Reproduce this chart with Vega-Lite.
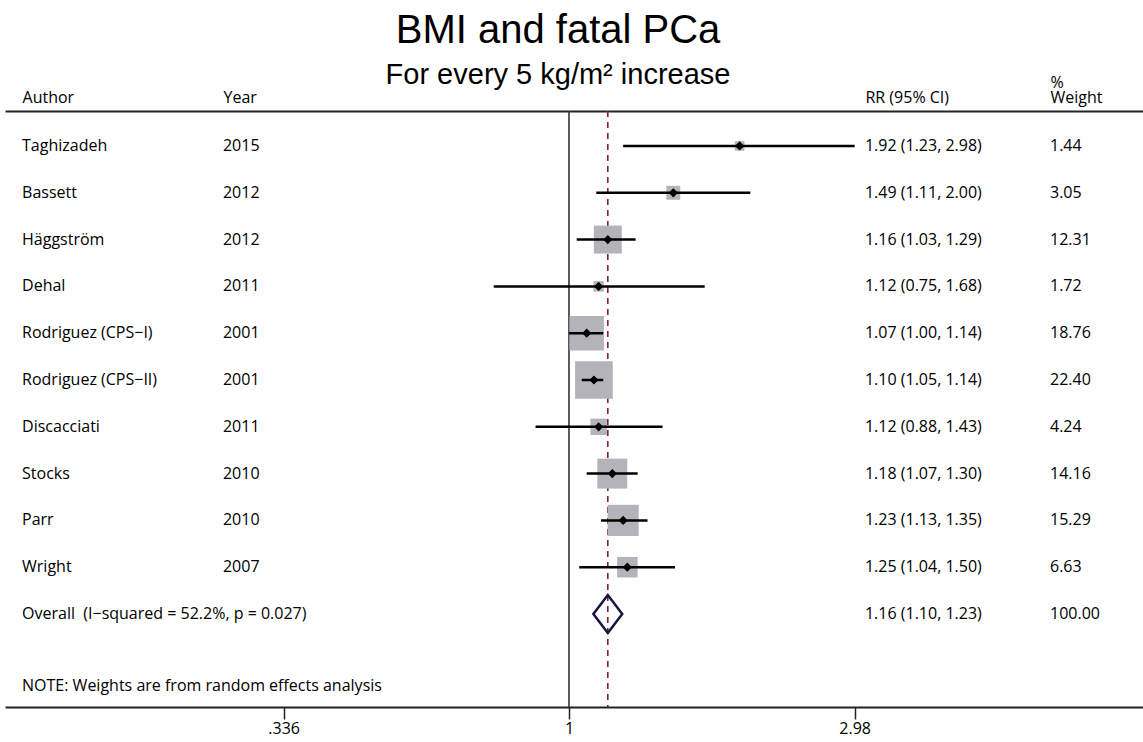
{
  "$schema": "https://vega.github.io/schema/vega-lite/v6.json",
  "width": 1138,
  "height": 596,
  "autosize": {"type": "none"},
  "padding": {"left": 5, "top": 111, "right": 0, "bottom": 35},
  "background": "white",
  "config": {"view": {"stroke": null}, "font": "Open Sans"},
  "title": {
    "text": "BMI and fatal PCa",
    "subtitle": "For every 5 kg/m² increase",
    "font": "Liberation Sans",
    "fontSize": 40,
    "fontWeight": "normal",
    "color": "black",
    "subtitleFont": "Liberation Sans",
    "subtitleFontSize": 29,
    "subtitleColor": "black",
    "subtitlePadding": 10,
    "anchor": "middle",
    "dx": -16,
    "offset": -16
  },
  "datasets": {
    "studies": [
      {"kind": "study", "study": "Taghizadeh", "year": "2015", "rr": 1.92, "lo": 1.23, "hi": 2.98, "weight": 1.44, "rrci": "1.92 (1.23, 2.98)", "wt": "1.44"},
      {"kind": "study", "study": "Bassett", "year": "2012", "rr": 1.49, "lo": 1.11, "hi": 2.00, "weight": 3.05, "rrci": "1.49 (1.11, 2.00)", "wt": "3.05"},
      {"kind": "study", "study": "Häggström", "year": "2012", "rr": 1.16, "lo": 1.03, "hi": 1.29, "weight": 12.31, "rrci": "1.16 (1.03, 1.29)", "wt": "12.31"},
      {"kind": "study", "study": "Dehal", "year": "2011", "rr": 1.12, "lo": 0.75, "hi": 1.68, "weight": 1.72, "rrci": "1.12 (0.75, 1.68)", "wt": "1.72"},
      {"kind": "study", "study": "Rodriguez (CPS−I)", "year": "2001", "rr": 1.07, "lo": 1.00, "hi": 1.14, "weight": 18.76, "rrci": "1.07 (1.00, 1.14)", "wt": "18.76"},
      {"kind": "study", "study": "Rodriguez (CPS−II)", "year": "2001", "rr": 1.10, "lo": 1.05, "hi": 1.14, "weight": 22.40, "rrci": "1.10 (1.05, 1.14)", "wt": "22.40"},
      {"kind": "study", "study": "Discacciati", "year": "2011", "rr": 1.12, "lo": 0.88, "hi": 1.43, "weight": 4.24, "rrci": "1.12 (0.88, 1.43)", "wt": "4.24"},
      {"kind": "study", "study": "Stocks", "year": "2010", "rr": 1.18, "lo": 1.07, "hi": 1.30, "weight": 14.16, "rrci": "1.18 (1.07, 1.30)", "wt": "14.16"},
      {"kind": "study", "study": "Parr", "year": "2010", "rr": 1.23, "lo": 1.13, "hi": 1.35, "weight": 15.29, "rrci": "1.23 (1.13, 1.35)", "wt": "15.29"},
      {"kind": "study", "study": "Wright", "year": "2007", "rr": 1.25, "lo": 1.04, "hi": 1.50, "weight": 6.63, "rrci": "1.25 (1.04, 1.50)", "wt": "6.63"},
      {"kind": "overall", "study": "Overall \u00a0(I−squared = 52.2%, p = 0.027)", "year": "", "rr": 1.16, "lo": 1.10, "hi": 1.23, "weight": 100.00, "rrci": "1.16 (1.10, 1.23)", "wt": "100.00"}
    ],
    "note": [{"row": "NOTE", "note": "NOTE: Weights are from random effects analysis"}]
  },
  "data": {"name": "studies"},
  "resolve": {"axis": {"x": "independent"}},
  "layer": [
    {
      "data": {"values": [{}]},
      "mark": {"type": "rule", "color": "#333333", "strokeWidth": 1.6},
      "encoding": {
        "x": {"datum": 1, "type": "quantitative", "scale": {"type": "log", "domain": [0.1158, 8.973], "nice": false, "zero": false}, "axis": null}
      }
    },
    {
      "data": {"values": [{}]},
      "mark": {"type": "rule", "color": "#8c1c3c", "strokeWidth": 1.6, "strokeDash": [6, 5]},
      "encoding": {
        "x": {"datum": 1.16, "type": "quantitative", "scale": {"type": "log", "domain": [0.1158, 8.973], "nice": false, "zero": false}, "axis": null}
      }
    },
    {
      "transform": [{"filter": "datum.kind == 'study'"}],
      "mark": {"type": "square", "filled": true, "color": "#b4b3b9", "opacity": 1},
      "encoding": {
        "x": {"field": "rr", "type": "quantitative", "scale": {"type": "log", "domain": [0.1158, 8.973], "nice": false, "zero": false},
          "axis": {"orient": "bottom", "title": null, "values": [0.336, 1, 2.98], "format": ".3~g",
            "labelExpr": "datum.value < 1 ? substring(datum.label, 1) : datum.label",
            "grid": false, "domainColor": "#222222", "domainWidth": 2, "tickColor": "#222222", "tickWidth": 1.5, "tickSize": 12,
            "labelFont": "Open Sans", "labelFontSize": 16, "labelColor": "black", "labelPadding": 1,
            "labelOverlap": false, "labelFlush": false, "labelBound": false}},
        "y": {"field": "study", "type": "nominal", "sort": null,
          "scale": {"type": "point", "domain": ["Taghizadeh", "Bassett", "Häggström", "Dehal", "Rodriguez (CPS−I)", "Rodriguez (CPS−II)", "Discacciati", "Stocks", "Parr", "Wright", "Overall \u00a0(I−squared = 52.2%, p = 0.027)", "NOTE"], "padding": 0.867, "align": 0.431, "round": false},
          "axis": null},
        "size": {"field": "weight", "type": "quantitative", "scale": {"domain": [0, 22.4], "range": [0, 1420], "zero": true}, "legend": null}
      }
    },
    {
      "transform": [{"filter": "datum.kind == 'study'"}],
      "mark": {"type": "rule", "color": "black", "strokeWidth": 2.5},
      "encoding": {
        "x": {"field": "lo", "type": "quantitative", "scale": {"type": "log", "domain": [0.1158, 8.973], "nice": false, "zero": false},
          "axis": {"orient": "top", "title": null, "values": [0.1236, 0.2664, 3.1, 6.288],
            "labelExpr": "datum.value < 0.2 ? 'Author' : datum.value < 1 ? 'Year' : datum.value < 4 ? 'RR (95% CI)' : 'Weight'",
            "ticks": false, "grid": false, "domainColor": "#222222", "domainWidth": 2,
            "labelAlign": "left", "labelFont": "Open Sans", "labelFontSize": 16, "labelColor": "black", "labelPadding": 6,
            "labelOverlap": false, "labelFlush": false, "labelBound": false}},
        "x2": {"field": "hi"},
        "y": {"field": "study", "type": "nominal", "sort": null,
          "scale": {"type": "point", "domain": ["Taghizadeh", "Bassett", "Häggström", "Dehal", "Rodriguez (CPS−I)", "Rodriguez (CPS−II)", "Discacciati", "Stocks", "Parr", "Wright", "Overall \u00a0(I−squared = 52.2%, p = 0.027)", "NOTE"], "padding": 0.867, "align": 0.431, "round": false},
          "axis": null}
      }
    },
    {
      "transform": [{"filter": "datum.kind == 'study'"}],
      "mark": {"type": "point", "shape": "diamond", "filled": true, "color": "black", "opacity": 1, "size": 85},
      "encoding": {
        "x": {"field": "rr", "type": "quantitative", "scale": {"type": "log", "domain": [0.1158, 8.973], "nice": false, "zero": false},
          "axis": {"orient": "top", "title": null, "values": [6.288], "labelExpr": "'%'", "offset": 15,
            "ticks": false, "domain": false, "grid": false,
            "labelAlign": "left", "labelFont": "Open Sans", "labelFontSize": 16, "labelColor": "black", "labelPadding": 6,
            "labelOverlap": false, "labelFlush": false, "labelBound": false}},
        "y": {"field": "study", "type": "nominal", "sort": null,
          "scale": {"type": "point", "domain": ["Taghizadeh", "Bassett", "Häggström", "Dehal", "Rodriguez (CPS−I)", "Rodriguez (CPS−II)", "Discacciati", "Stocks", "Parr", "Wright", "Overall \u00a0(I−squared = 52.2%, p = 0.027)", "NOTE"], "padding": 0.867, "align": 0.431, "round": false},
          "axis": null}
      }
    },
    {
      "transform": [{"filter": "datum.kind == 'overall'"}],
      "mark": {"type": "point", "shape": "M-0.76,0L0,-1L0.76,0L0,1Z", "filled": false, "stroke": "#15153f", "strokeWidth": 2.5, "opacity": 1, "size": 1444},
      "encoding": {
        "x": {"field": "rr", "type": "quantitative", "axis": null},
        "y": {"field": "study", "type": "nominal", "sort": null, "axis": null}
      }
    },
    {
      "mark": {"type": "text", "align": "left", "baseline": "middle", "font": "Open Sans", "fontSize": 16, "color": "black"},
      "encoding": {
        "x": {"datum": 0.1236, "type": "quantitative", "axis": null},
        "y": {"field": "study", "type": "nominal", "sort": null, "axis": null},
        "text": {"field": "study"}
      }
    },
    {
      "mark": {"type": "text", "align": "left", "baseline": "middle", "font": "Open Sans", "fontSize": 16, "color": "black"},
      "encoding": {
        "x": {"datum": 0.2664, "type": "quantitative", "axis": null},
        "y": {"field": "study", "type": "nominal", "sort": null, "axis": null},
        "text": {"field": "year"}
      }
    },
    {
      "mark": {"type": "text", "align": "left", "baseline": "middle", "font": "Open Sans", "fontSize": 16, "color": "black"},
      "encoding": {
        "x": {"datum": 3.1, "type": "quantitative", "axis": null},
        "y": {"field": "study", "type": "nominal", "sort": null, "axis": null},
        "text": {"field": "rrci"}
      }
    },
    {
      "mark": {"type": "text", "align": "left", "baseline": "middle", "font": "Open Sans", "fontSize": 16, "color": "black"},
      "encoding": {
        "x": {"datum": 6.288, "type": "quantitative", "axis": null},
        "y": {"field": "study", "type": "nominal", "sort": null, "axis": null},
        "text": {"field": "wt"}
      }
    },
    {
      "data": {"name": "note"},
      "mark": {"type": "text", "align": "left", "baseline": "middle", "font": "Open Sans", "fontSize": 16, "color": "black", "dy": 25},
      "encoding": {
        "x": {"datum": 0.1236, "type": "quantitative", "axis": null},
        "y": {"field": "row", "type": "nominal", "axis": null},
        "text": {"field": "note"}
      }
    }
  ]
}
